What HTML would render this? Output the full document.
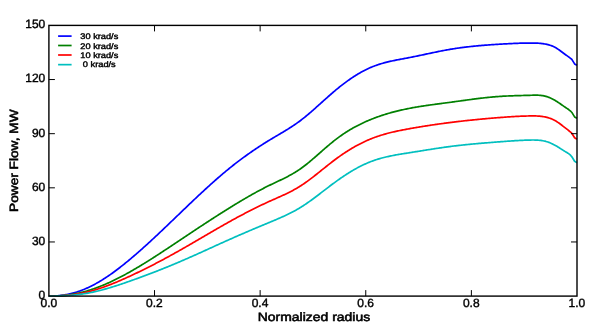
<!DOCTYPE html>
<html><head><meta charset="utf-8"><title>Power Flow</title>
<style>
html,body{margin:0;padding:0;background:#fff;}
body{width:595px;height:334px;overflow:hidden;font-family:"Liberation Sans",sans-serif;}
svg{display:block;will-change:transform;opacity:0.999;}
text{font-family:"Liberation Sans",sans-serif;fill:#000;text-rendering:geometricPrecision;}
.tk text{font-size:12px;stroke:#000;stroke-width:0.4px;}
.lg text{font-size:8.1px;stroke:#000;stroke-width:0.4px;}
.al{font-size:12px;stroke:#000;stroke-width:0.55px;}
</style></head><body>
<svg width="595" height="334" viewBox="0 0 595 334">
<rect x="0" y="0" width="595" height="334" fill="#ffffff"/>
<g>
<path d="M48.90 296.10 L49.90 296.10 L50.90 296.10 L51.90 296.09 L52.90 296.06 L53.90 296.03 L54.90 295.98 L55.90 295.92 L56.90 295.85 L57.90 295.77 L58.90 295.68 L59.90 295.57 L60.90 295.45 L61.90 295.33 L62.90 295.19 L63.90 295.04 L64.90 294.87 L65.90 294.70 L66.90 294.51 L67.90 294.31 L68.90 294.10 L69.90 293.87 L70.90 293.64 L71.90 293.39 L72.90 293.13 L73.90 292.86 L74.90 292.57 L75.90 292.27 L76.90 291.96 L77.90 291.64 L78.90 291.30 L79.90 290.95 L80.90 290.59 L81.90 290.22 L82.90 289.83 L83.90 289.43 L84.90 289.01 L85.90 288.59 L86.90 288.15 L87.90 287.69 L88.90 287.23 L89.90 286.75 L90.90 286.26 L91.90 285.76 L92.90 285.24 L93.90 284.72 L94.90 284.18 L95.90 283.63 L96.90 283.07 L97.90 282.50 L98.90 281.91 L99.90 281.32 L100.90 280.72 L101.90 280.10 L102.90 279.48 L103.90 278.84 L104.90 278.20 L105.90 277.54 L106.90 276.88 L107.90 276.21 L108.90 275.53 L109.90 274.83 L110.90 274.13 L111.90 273.43 L112.90 272.71 L113.90 271.98 L114.90 271.25 L115.90 270.51 L116.90 269.76 L117.90 269.00 L118.90 268.24 L119.90 267.47 L120.90 266.69 L121.90 265.91 L122.90 265.11 L123.90 264.32 L124.90 263.51 L125.90 262.70 L126.90 261.88 L127.90 261.06 L128.90 260.23 L129.90 259.40 L130.90 258.56 L131.90 257.72 L132.90 256.87 L133.90 256.01 L134.90 255.16 L135.90 254.29 L136.90 253.42 L137.90 252.55 L138.90 251.67 L139.90 250.79 L140.90 249.91 L141.90 249.02 L142.90 248.13 L143.90 247.23 L144.90 246.33 L145.90 245.42 L146.90 244.52 L147.90 243.60 L148.90 242.69 L149.90 241.77 L150.90 240.85 L151.90 239.93 L152.90 239.00 L153.90 238.07 L154.90 237.14 L155.90 236.21 L156.90 235.27 L157.90 234.33 L158.90 233.39 L159.90 232.45 L160.90 231.50 L161.90 230.55 L162.90 229.61 L163.90 228.65 L164.90 227.70 L165.90 226.75 L166.90 225.80 L167.90 224.84 L168.90 223.88 L169.90 222.92 L170.90 221.97 L171.90 221.01 L172.90 220.05 L173.90 219.09 L174.90 218.13 L175.90 217.16 L176.90 216.20 L177.90 215.24 L178.90 214.28 L179.90 213.32 L180.90 212.36 L181.90 211.40 L182.90 210.44 L183.90 209.48 L184.90 208.52 L185.90 207.56 L186.90 206.60 L187.90 205.65 L188.90 204.69 L189.90 203.74 L190.90 202.79 L191.90 201.84 L192.90 200.89 L193.90 199.94 L194.90 199.00 L195.90 198.05 L196.90 197.11 L197.90 196.17 L198.90 195.23 L199.90 194.30 L200.90 193.37 L201.90 192.44 L202.90 191.51 L203.90 190.59 L204.90 189.66 L205.90 188.75 L206.90 187.83 L207.90 186.92 L208.90 186.01 L209.90 185.11 L210.90 184.21 L211.90 183.31 L212.90 182.41 L213.90 181.53 L214.90 180.64 L215.90 179.76 L216.90 178.88 L217.90 178.01 L218.90 177.14 L219.90 176.28 L220.90 175.42 L221.90 174.56 L222.90 173.72 L223.90 172.87 L224.90 172.03 L225.90 171.20 L226.90 170.37 L227.90 169.55 L228.90 168.73 L229.90 167.92 L230.90 167.12 L231.90 166.32 L232.90 165.52 L233.90 164.73 L234.90 163.95 L235.90 163.18 L236.90 162.41 L237.90 161.64 L238.90 160.88 L239.90 160.13 L240.90 159.38 L241.90 158.63 L242.90 157.90 L243.90 157.16 L244.90 156.44 L245.90 155.71 L246.90 155.00 L247.90 154.29 L248.90 153.58 L249.90 152.88 L250.90 152.18 L251.90 151.49 L252.90 150.81 L253.90 150.12 L254.90 149.45 L255.90 148.78 L256.90 148.11 L257.90 147.45 L258.90 146.79 L259.90 146.14 L260.90 145.49 L261.90 144.85 L262.90 144.21 L263.90 143.58 L264.90 142.95 L265.90 142.33 L266.90 141.71 L267.90 141.09 L268.90 140.48 L269.90 139.87 L270.90 139.27 L271.90 138.67 L272.90 138.07 L273.90 137.48 L274.90 136.89 L275.90 136.30 L276.90 135.71 L277.90 135.12 L278.90 134.53 L279.90 133.94 L280.90 133.35 L281.90 132.75 L282.90 132.15 L283.90 131.55 L284.90 130.95 L285.90 130.34 L286.90 129.72 L287.90 129.10 L288.90 128.47 L289.90 127.84 L290.90 127.19 L291.90 126.54 L292.90 125.88 L293.90 125.21 L294.90 124.53 L295.90 123.84 L296.90 123.13 L297.90 122.42 L298.90 121.69 L299.90 120.95 L300.90 120.20 L301.90 119.43 L302.90 118.65 L303.90 117.85 L304.90 117.05 L305.90 116.23 L306.90 115.41 L307.90 114.57 L308.90 113.73 L309.90 112.88 L310.90 112.02 L311.90 111.15 L312.90 110.28 L313.90 109.40 L314.90 108.52 L315.90 107.63 L316.90 106.74 L317.90 105.85 L318.90 104.95 L319.90 104.05 L320.90 103.15 L321.90 102.25 L322.90 101.35 L323.90 100.45 L324.90 99.56 L325.90 98.66 L326.90 97.77 L327.90 96.88 L328.90 96.00 L329.90 95.12 L330.90 94.24 L331.90 93.37 L332.90 92.51 L333.90 91.66 L334.90 90.81 L335.90 89.97 L336.90 89.14 L337.90 88.32 L338.90 87.51 L339.90 86.71 L340.90 85.92 L341.90 85.14 L342.90 84.36 L343.90 83.60 L344.90 82.85 L345.90 82.11 L346.90 81.37 L347.90 80.65 L348.90 79.94 L349.90 79.24 L350.90 78.56 L351.90 77.88 L352.90 77.21 L353.90 76.56 L354.90 75.92 L355.90 75.29 L356.90 74.67 L357.90 74.07 L358.90 73.47 L359.90 72.89 L360.90 72.33 L361.90 71.77 L362.90 71.23 L363.90 70.70 L364.90 70.19 L365.90 69.69 L366.90 69.20 L367.90 68.73 L368.90 68.27 L369.90 67.83 L370.90 67.40 L371.90 66.98 L372.90 66.58 L373.90 66.19 L374.90 65.81 L375.90 65.45 L376.90 65.10 L377.90 64.76 L378.90 64.43 L379.90 64.11 L380.90 63.80 L381.90 63.51 L382.90 63.22 L383.90 62.94 L384.90 62.67 L385.90 62.41 L386.90 62.15 L387.90 61.90 L388.90 61.66 L389.90 61.43 L390.90 61.20 L391.90 60.98 L392.90 60.76 L393.90 60.55 L394.90 60.34 L395.90 60.14 L396.90 59.94 L397.90 59.74 L398.90 59.55 L399.90 59.35 L400.90 59.16 L401.90 58.98 L402.90 58.79 L403.90 58.60 L404.90 58.41 L405.90 58.23 L406.90 58.04 L407.90 57.85 L408.90 57.66 L409.90 57.47 L410.90 57.27 L411.90 57.07 L412.90 56.87 L413.90 56.67 L414.90 56.47 L415.90 56.27 L416.90 56.06 L417.90 55.85 L418.90 55.64 L419.90 55.43 L420.90 55.22 L421.90 55.01 L422.90 54.80 L423.90 54.59 L424.90 54.37 L425.90 54.16 L426.90 53.95 L427.90 53.73 L428.90 53.52 L429.90 53.31 L430.90 53.10 L431.90 52.89 L432.90 52.68 L433.90 52.47 L434.90 52.26 L435.90 52.05 L436.90 51.85 L437.90 51.64 L438.90 51.44 L439.90 51.24 L440.90 51.04 L441.90 50.85 L442.90 50.66 L443.90 50.47 L444.90 50.28 L445.90 50.09 L446.90 49.91 L447.90 49.73 L448.90 49.56 L449.90 49.38 L450.90 49.21 L451.90 49.05 L452.90 48.89 L453.90 48.73 L454.90 48.57 L455.90 48.42 L456.90 48.27 L457.90 48.13 L458.90 47.99 L459.90 47.85 L460.90 47.71 L461.90 47.58 L462.90 47.45 L463.90 47.32 L464.90 47.20 L465.90 47.08 L466.90 46.96 L467.90 46.84 L468.90 46.73 L469.90 46.62 L470.90 46.51 L471.90 46.40 L472.90 46.30 L473.90 46.20 L474.90 46.10 L475.90 46.00 L476.90 45.91 L477.90 45.81 L478.90 45.72 L479.90 45.63 L480.90 45.55 L481.90 45.46 L482.90 45.38 L483.90 45.30 L484.90 45.22 L485.90 45.14 L486.90 45.06 L487.90 44.99 L488.90 44.91 L489.90 44.84 L490.90 44.77 L491.90 44.70 L492.90 44.63 L493.90 44.57 L494.90 44.50 L495.90 44.43 L496.90 44.37 L497.90 44.31 L498.90 44.24 L499.90 44.18 L500.90 44.12 L501.90 44.06 L502.90 44.00 L503.90 43.95 L504.90 43.89 L505.90 43.83 L506.90 43.78 L507.90 43.73 L508.90 43.68 L509.90 43.63 L510.90 43.58 L511.90 43.53 L512.90 43.48 L513.90 43.44 L514.90 43.40 L515.90 43.36 L516.90 43.32 L517.90 43.28 L518.90 43.25 L519.90 43.22 L520.90 43.19 L521.90 43.16 L522.90 43.14 L523.90 43.11 L524.90 43.09 L525.90 43.08 L526.90 43.06 L527.90 43.05 L528.90 43.04 L529.90 43.03 L530.90 43.03 L531.90 43.03 L532.90 43.04 L533.90 43.05 L534.90 43.07 L535.90 43.10 L536.90 43.14 L537.90 43.19 L538.90 43.25 L539.90 43.33 L540.90 43.43 L541.90 43.53 L542.90 43.66 L543.90 43.81 L544.90 43.97 L545.90 44.16 L546.90 44.38 L547.90 44.61 L548.90 44.88 L549.90 45.19 L550.90 45.52 L551.90 45.90 L552.90 46.32 L553.90 46.78 L554.90 47.29 L555.90 47.85 L556.90 48.46 L557.90 49.12 L558.90 49.81 L559.90 50.53 L560.90 51.27 L561.90 52.02 L562.90 52.78 L563.90 53.52 L564.90 54.25 L565.90 54.95 L566.90 55.65 L567.90 56.34 L568.90 57.06 L569.90 57.82 L570.90 58.63 L571.90 59.51 L572.00 59.60 L574.60 63.90 L577.00 65.30" fill="none" stroke="#0000ff" stroke-width="1.7" stroke-linejoin="round"/>
<path d="M48.90 296.10 L49.90 296.10 L50.90 296.10 L51.90 296.10 L52.90 296.08 L53.90 296.06 L54.90 296.03 L55.90 295.99 L56.90 295.95 L57.90 295.89 L58.90 295.84 L59.90 295.77 L60.90 295.69 L61.90 295.61 L62.90 295.52 L63.90 295.42 L64.90 295.32 L65.90 295.20 L66.90 295.08 L67.90 294.95 L68.90 294.82 L69.90 294.67 L70.90 294.52 L71.90 294.36 L72.90 294.19 L73.90 294.01 L74.90 293.82 L75.90 293.63 L76.90 293.43 L77.90 293.22 L78.90 293.00 L79.90 292.77 L80.90 292.54 L81.90 292.29 L82.90 292.04 L83.90 291.78 L84.90 291.51 L85.90 291.23 L86.90 290.95 L87.90 290.65 L88.90 290.35 L89.90 290.03 L90.90 289.71 L91.90 289.39 L92.90 289.05 L93.90 288.71 L94.90 288.35 L95.90 287.99 L96.90 287.63 L97.90 287.25 L98.90 286.87 L99.90 286.48 L100.90 286.08 L101.90 285.68 L102.90 285.27 L103.90 284.85 L104.90 284.43 L105.90 284.00 L106.90 283.56 L107.90 283.12 L108.90 282.67 L109.90 282.21 L110.90 281.75 L111.90 281.28 L112.90 280.80 L113.90 280.32 L114.90 279.83 L115.90 279.34 L116.90 278.84 L117.90 278.34 L118.90 277.83 L119.90 277.32 L120.90 276.80 L121.90 276.27 L122.90 275.74 L123.90 275.21 L124.90 274.67 L125.90 274.12 L126.90 273.57 L127.90 273.02 L128.90 272.46 L129.90 271.90 L130.90 271.33 L131.90 270.76 L132.90 270.19 L133.90 269.61 L134.90 269.02 L135.90 268.44 L136.90 267.85 L137.90 267.25 L138.90 266.65 L139.90 266.05 L140.90 265.45 L141.90 264.84 L142.90 264.23 L143.90 263.62 L144.90 263.00 L145.90 262.38 L146.90 261.76 L147.90 261.13 L148.90 260.50 L149.90 259.87 L150.90 259.24 L151.90 258.60 L152.90 257.96 L153.90 257.32 L154.90 256.68 L155.90 256.04 L156.90 255.39 L157.90 254.74 L158.90 254.09 L159.90 253.44 L160.90 252.79 L161.90 252.13 L162.90 251.48 L163.90 250.82 L164.90 250.16 L165.90 249.50 L166.90 248.84 L167.90 248.17 L168.90 247.51 L169.90 246.85 L170.90 246.18 L171.90 245.52 L172.90 244.85 L173.90 244.19 L174.90 243.52 L175.90 242.85 L176.90 242.18 L177.90 241.52 L178.90 240.85 L179.90 240.18 L180.90 239.52 L181.90 238.85 L182.90 238.18 L183.90 237.52 L184.90 236.85 L185.90 236.18 L186.90 235.52 L187.90 234.85 L188.90 234.19 L189.90 233.52 L190.90 232.86 L191.90 232.20 L192.90 231.53 L193.90 230.87 L194.90 230.21 L195.90 229.55 L196.90 228.89 L197.90 228.23 L198.90 227.57 L199.90 226.91 L200.90 226.25 L201.90 225.60 L202.90 224.94 L203.90 224.29 L204.90 223.63 L205.90 222.98 L206.90 222.33 L207.90 221.68 L208.90 221.03 L209.90 220.38 L210.90 219.73 L211.90 219.09 L212.90 218.44 L213.90 217.80 L214.90 217.15 L215.90 216.51 L216.90 215.87 L217.90 215.23 L218.90 214.59 L219.90 213.96 L220.90 213.32 L221.90 212.69 L222.90 212.06 L223.90 211.43 L224.90 210.80 L225.90 210.17 L226.90 209.55 L227.90 208.92 L228.90 208.30 L229.90 207.68 L230.90 207.06 L231.90 206.44 L232.90 205.83 L233.90 205.21 L234.90 204.60 L235.90 203.99 L236.90 203.39 L237.90 202.78 L238.90 202.18 L239.90 201.58 L240.90 200.98 L241.90 200.39 L242.90 199.80 L243.90 199.21 L244.90 198.62 L245.90 198.04 L246.90 197.46 L247.90 196.88 L248.90 196.31 L249.90 195.74 L250.90 195.17 L251.90 194.60 L252.90 194.04 L253.90 193.49 L254.90 192.93 L255.90 192.38 L256.90 191.84 L257.90 191.29 L258.90 190.76 L259.90 190.22 L260.90 189.69 L261.90 189.17 L262.90 188.64 L263.90 188.13 L264.90 187.61 L265.90 187.10 L266.90 186.60 L267.90 186.10 L268.90 185.61 L269.90 185.12 L270.90 184.63 L271.90 184.15 L272.90 183.67 L273.90 183.20 L274.90 182.73 L275.90 182.25 L276.90 181.78 L277.90 181.31 L278.90 180.84 L279.90 180.36 L280.90 179.88 L281.90 179.40 L282.90 178.91 L283.90 178.42 L284.90 177.92 L285.90 177.42 L286.90 176.91 L287.90 176.39 L288.90 175.86 L289.90 175.32 L290.90 174.77 L291.90 174.21 L292.90 173.63 L293.90 173.04 L294.90 172.44 L295.90 171.83 L296.90 171.20 L297.90 170.55 L298.90 169.89 L299.90 169.20 L300.90 168.50 L301.90 167.78 L302.90 167.05 L303.90 166.30 L304.90 165.53 L305.90 164.75 L306.90 163.96 L307.90 163.15 L308.90 162.34 L309.90 161.51 L310.90 160.67 L311.90 159.83 L312.90 158.97 L313.90 158.11 L314.90 157.25 L315.90 156.38 L316.90 155.50 L317.90 154.63 L318.90 153.75 L319.90 152.87 L320.90 151.99 L321.90 151.11 L322.90 150.23 L323.90 149.35 L324.90 148.48 L325.90 147.61 L326.90 146.74 L327.90 145.89 L328.90 145.04 L329.90 144.20 L330.90 143.36 L331.90 142.54 L332.90 141.73 L333.90 140.93 L334.90 140.14 L335.90 139.36 L336.90 138.60 L337.90 137.85 L338.90 137.12 L339.90 136.40 L340.90 135.69 L341.90 134.99 L342.90 134.31 L343.90 133.64 L344.90 132.98 L345.90 132.33 L346.90 131.69 L347.90 131.07 L348.90 130.45 L349.90 129.85 L350.90 129.26 L351.90 128.68 L352.90 128.11 L353.90 127.55 L354.90 127.00 L355.90 126.46 L356.90 125.93 L357.90 125.41 L358.90 124.90 L359.90 124.40 L360.90 123.91 L361.90 123.43 L362.90 122.96 L363.90 122.49 L364.90 122.03 L365.90 121.59 L366.90 121.15 L367.90 120.71 L368.90 120.29 L369.90 119.87 L370.90 119.46 L371.90 119.06 L372.90 118.67 L373.90 118.28 L374.90 117.90 L375.90 117.52 L376.90 117.16 L377.90 116.80 L378.90 116.44 L379.90 116.09 L380.90 115.75 L381.90 115.42 L382.90 115.09 L383.90 114.77 L384.90 114.45 L385.90 114.14 L386.90 113.84 L387.90 113.54 L388.90 113.25 L389.90 112.96 L390.90 112.68 L391.90 112.41 L392.90 112.14 L393.90 111.87 L394.90 111.61 L395.90 111.36 L396.90 111.11 L397.90 110.86 L398.90 110.62 L399.90 110.38 L400.90 110.15 L401.90 109.93 L402.90 109.71 L403.90 109.49 L404.90 109.27 L405.90 109.07 L406.90 108.86 L407.90 108.66 L408.90 108.46 L409.90 108.27 L410.90 108.08 L411.90 107.89 L412.90 107.71 L413.90 107.53 L414.90 107.35 L415.90 107.18 L416.90 107.01 L417.90 106.84 L418.90 106.68 L419.90 106.52 L420.90 106.36 L421.90 106.20 L422.90 106.05 L423.90 105.90 L424.90 105.75 L425.90 105.60 L426.90 105.45 L427.90 105.31 L428.90 105.17 L429.90 105.02 L430.90 104.88 L431.90 104.75 L432.90 104.61 L433.90 104.47 L434.90 104.34 L435.90 104.20 L436.90 104.07 L437.90 103.94 L438.90 103.81 L439.90 103.67 L440.90 103.54 L441.90 103.41 L442.90 103.28 L443.90 103.15 L444.90 103.02 L445.90 102.88 L446.90 102.75 L447.90 102.62 L448.90 102.49 L449.90 102.35 L450.90 102.22 L451.90 102.08 L452.90 101.95 L453.90 101.81 L454.90 101.67 L455.90 101.53 L456.90 101.40 L457.90 101.26 L458.90 101.12 L459.90 100.98 L460.90 100.84 L461.90 100.70 L462.90 100.57 L463.90 100.43 L464.90 100.29 L465.90 100.15 L466.90 100.02 L467.90 99.88 L468.90 99.75 L469.90 99.61 L470.90 99.48 L471.90 99.35 L472.90 99.21 L473.90 99.08 L474.90 98.96 L475.90 98.83 L476.90 98.70 L477.90 98.58 L478.90 98.46 L479.90 98.33 L480.90 98.21 L481.90 98.10 L482.90 97.98 L483.90 97.87 L484.90 97.76 L485.90 97.65 L486.90 97.54 L487.90 97.44 L488.90 97.34 L489.90 97.24 L490.90 97.14 L491.90 97.05 L492.90 96.96 L493.90 96.87 L494.90 96.78 L495.90 96.70 L496.90 96.62 L497.90 96.55 L498.90 96.48 L499.90 96.41 L500.90 96.34 L501.90 96.28 L502.90 96.22 L503.90 96.17 L504.90 96.12 L505.90 96.07 L506.90 96.02 L507.90 95.98 L508.90 95.93 L509.90 95.89 L510.90 95.86 L511.90 95.82 L512.90 95.79 L513.90 95.75 L514.90 95.72 L515.90 95.69 L516.90 95.66 L517.90 95.63 L518.90 95.61 L519.90 95.58 L520.90 95.55 L521.90 95.52 L522.90 95.50 L523.90 95.47 L524.90 95.44 L525.90 95.41 L526.90 95.39 L527.90 95.36 L528.90 95.33 L529.90 95.29 L530.90 95.26 L531.90 95.23 L532.90 95.20 L533.90 95.18 L534.90 95.17 L535.90 95.17 L536.90 95.18 L537.90 95.21 L538.90 95.26 L539.90 95.33 L540.90 95.43 L541.90 95.55 L542.90 95.70 L543.90 95.89 L544.90 96.11 L545.90 96.37 L546.90 96.67 L547.90 97.00 L548.90 97.37 L549.90 97.77 L550.90 98.21 L551.90 98.68 L552.90 99.19 L553.90 99.73 L554.90 100.30 L555.90 100.90 L556.90 101.53 L557.90 102.18 L558.90 102.86 L559.90 103.55 L560.90 104.25 L561.90 104.95 L562.90 105.65 L563.90 106.35 L564.90 107.03 L565.90 107.69 L566.90 108.36 L567.90 109.05 L568.90 109.79 L569.90 110.59 L570.90 111.48 L571.90 112.49 L572.00 112.60 L574.60 116.90 L577.00 118.30" fill="none" stroke="#008000" stroke-width="1.7" stroke-linejoin="round"/>
<path d="M48.90 296.10 L49.90 296.09 L50.90 296.09 L51.90 296.07 L52.90 296.05 L53.90 296.03 L54.90 296.01 L55.90 295.97 L56.90 295.94 L57.90 295.90 L58.90 295.85 L59.90 295.80 L60.90 295.75 L61.90 295.69 L62.90 295.62 L63.90 295.55 L64.90 295.47 L65.90 295.39 L66.90 295.30 L67.90 295.20 L68.90 295.10 L69.90 294.99 L70.90 294.88 L71.90 294.75 L72.90 294.63 L73.90 294.49 L74.90 294.35 L75.90 294.20 L76.90 294.05 L77.90 293.88 L78.90 293.71 L79.90 293.54 L80.90 293.35 L81.90 293.16 L82.90 292.96 L83.90 292.75 L84.90 292.53 L85.90 292.31 L86.90 292.07 L87.90 291.83 L88.90 291.58 L89.90 291.32 L90.90 291.06 L91.90 290.79 L92.90 290.51 L93.90 290.22 L94.90 289.93 L95.90 289.63 L96.90 289.32 L97.90 289.00 L98.90 288.68 L99.90 288.36 L100.90 288.02 L101.90 287.68 L102.90 287.34 L103.90 286.98 L104.90 286.63 L105.90 286.26 L106.90 285.89 L107.90 285.52 L108.90 285.14 L109.90 284.75 L110.90 284.36 L111.90 283.97 L112.90 283.57 L113.90 283.16 L114.90 282.75 L115.90 282.34 L116.90 281.92 L117.90 281.50 L118.90 281.08 L119.90 280.65 L120.90 280.21 L121.90 279.78 L122.90 279.34 L123.90 278.89 L124.90 278.44 L125.90 277.99 L126.90 277.54 L127.90 277.09 L128.90 276.63 L129.90 276.17 L130.90 275.70 L131.90 275.24 L132.90 274.77 L133.90 274.30 L134.90 273.82 L135.90 273.35 L136.90 272.87 L137.90 272.39 L138.90 271.91 L139.90 271.42 L140.90 270.93 L141.90 270.44 L142.90 269.95 L143.90 269.46 L144.90 268.96 L145.90 268.46 L146.90 267.96 L147.90 267.46 L148.90 266.95 L149.90 266.45 L150.90 265.94 L151.90 265.43 L152.90 264.91 L153.90 264.40 L154.90 263.88 L155.90 263.36 L156.90 262.84 L157.90 262.31 L158.90 261.79 L159.90 261.26 L160.90 260.73 L161.90 260.20 L162.90 259.66 L163.90 259.13 L164.90 258.59 L165.90 258.05 L166.90 257.51 L167.90 256.97 L168.90 256.42 L169.90 255.87 L170.90 255.32 L171.90 254.77 L172.90 254.22 L173.90 253.67 L174.90 253.11 L175.90 252.55 L176.90 251.99 L177.90 251.43 L178.90 250.87 L179.90 250.30 L180.90 249.74 L181.90 249.17 L182.90 248.60 L183.90 248.03 L184.90 247.46 L185.90 246.88 L186.90 246.31 L187.90 245.73 L188.90 245.16 L189.90 244.58 L190.90 244.00 L191.90 243.42 L192.90 242.84 L193.90 242.26 L194.90 241.67 L195.90 241.09 L196.90 240.51 L197.90 239.93 L198.90 239.34 L199.90 238.76 L200.90 238.17 L201.90 237.59 L202.90 237.00 L203.90 236.42 L204.90 235.83 L205.90 235.25 L206.90 234.67 L207.90 234.08 L208.90 233.50 L209.90 232.92 L210.90 232.33 L211.90 231.75 L212.90 231.17 L213.90 230.59 L214.90 230.01 L215.90 229.43 L216.90 228.85 L217.90 228.28 L218.90 227.70 L219.90 227.13 L220.90 226.56 L221.90 225.98 L222.90 225.41 L223.90 224.84 L224.90 224.28 L225.90 223.71 L226.90 223.15 L227.90 222.59 L228.90 222.03 L229.90 221.47 L230.90 220.91 L231.90 220.36 L232.90 219.81 L233.90 219.26 L234.90 218.71 L235.90 218.16 L236.90 217.62 L237.90 217.08 L238.90 216.54 L239.90 216.00 L240.90 215.47 L241.90 214.94 L242.90 214.41 L243.90 213.88 L244.90 213.35 L245.90 212.83 L246.90 212.31 L247.90 211.80 L248.90 211.28 L249.90 210.77 L250.90 210.26 L251.90 209.75 L252.90 209.25 L253.90 208.75 L254.90 208.25 L255.90 207.76 L256.90 207.26 L257.90 206.77 L258.90 206.29 L259.90 205.80 L260.90 205.32 L261.90 204.85 L262.90 204.37 L263.90 203.90 L264.90 203.43 L265.90 202.97 L266.90 202.50 L267.90 202.05 L268.90 201.59 L269.90 201.14 L270.90 200.69 L271.90 200.24 L272.90 199.80 L273.90 199.36 L274.90 198.91 L275.90 198.47 L276.90 198.03 L277.90 197.59 L278.90 197.14 L279.90 196.70 L280.90 196.25 L281.90 195.80 L282.90 195.34 L283.90 194.88 L284.90 194.41 L285.90 193.94 L286.90 193.46 L287.90 192.97 L288.90 192.47 L289.90 191.97 L290.90 191.46 L291.90 190.94 L292.90 190.40 L293.90 189.86 L294.90 189.31 L295.90 188.74 L296.90 188.16 L297.90 187.57 L298.90 186.96 L299.90 186.34 L300.90 185.70 L301.90 185.05 L302.90 184.38 L303.90 183.70 L304.90 183.01 L305.90 182.30 L306.90 181.59 L307.90 180.86 L308.90 180.12 L309.90 179.38 L310.90 178.62 L311.90 177.86 L312.90 177.09 L313.90 176.32 L314.90 175.53 L315.90 174.75 L316.90 173.96 L317.90 173.16 L318.90 172.36 L319.90 171.56 L320.90 170.76 L321.90 169.96 L322.90 169.16 L323.90 168.35 L324.90 167.55 L325.90 166.75 L326.90 165.96 L327.90 165.16 L328.90 164.37 L329.90 163.59 L330.90 162.81 L331.90 162.03 L332.90 161.26 L333.90 160.50 L334.90 159.75 L335.90 159.01 L336.90 158.27 L337.90 157.55 L338.90 156.83 L339.90 156.12 L340.90 155.42 L341.90 154.73 L342.90 154.05 L343.90 153.38 L344.90 152.72 L345.90 152.06 L346.90 151.42 L347.90 150.78 L348.90 150.16 L349.90 149.54 L350.90 148.94 L351.90 148.34 L352.90 147.75 L353.90 147.17 L354.90 146.61 L355.90 146.05 L356.90 145.50 L357.90 144.96 L358.90 144.43 L359.90 143.91 L360.90 143.40 L361.90 142.90 L362.90 142.41 L363.90 141.93 L364.90 141.46 L365.90 141.00 L366.90 140.55 L367.90 140.11 L368.90 139.68 L369.90 139.27 L370.90 138.86 L371.90 138.46 L372.90 138.07 L373.90 137.69 L374.90 137.32 L375.90 136.96 L376.90 136.61 L377.90 136.27 L378.90 135.94 L379.90 135.61 L380.90 135.30 L381.90 134.99 L382.90 134.69 L383.90 134.39 L384.90 134.10 L385.90 133.83 L386.90 133.55 L387.90 133.29 L388.90 133.03 L389.90 132.77 L390.90 132.52 L391.90 132.28 L392.90 132.04 L393.90 131.81 L394.90 131.59 L395.90 131.36 L396.90 131.15 L397.90 130.93 L398.90 130.72 L399.90 130.52 L400.90 130.32 L401.90 130.12 L402.90 129.92 L403.90 129.73 L404.90 129.54 L405.90 129.36 L406.90 129.17 L407.90 128.99 L408.90 128.81 L409.90 128.63 L410.90 128.45 L411.90 128.28 L412.90 128.10 L413.90 127.93 L414.90 127.76 L415.90 127.58 L416.90 127.42 L417.90 127.25 L418.90 127.08 L419.90 126.92 L420.90 126.75 L421.90 126.59 L422.90 126.43 L423.90 126.27 L424.90 126.11 L425.90 125.95 L426.90 125.79 L427.90 125.64 L428.90 125.49 L429.90 125.33 L430.90 125.18 L431.90 125.03 L432.90 124.88 L433.90 124.74 L434.90 124.59 L435.90 124.45 L436.90 124.30 L437.90 124.16 L438.90 124.02 L439.90 123.88 L440.90 123.74 L441.90 123.60 L442.90 123.47 L443.90 123.33 L444.90 123.20 L445.90 123.07 L446.90 122.94 L447.90 122.81 L448.90 122.68 L449.90 122.55 L450.90 122.42 L451.90 122.30 L452.90 122.17 L453.90 122.05 L454.90 121.93 L455.90 121.81 L456.90 121.69 L457.90 121.57 L458.90 121.45 L459.90 121.34 L460.90 121.22 L461.90 121.11 L462.90 121.00 L463.90 120.89 L464.90 120.78 L465.90 120.67 L466.90 120.56 L467.90 120.45 L468.90 120.34 L469.90 120.24 L470.90 120.13 L471.90 120.03 L472.90 119.93 L473.90 119.83 L474.90 119.73 L475.90 119.63 L476.90 119.53 L477.90 119.43 L478.90 119.34 L479.90 119.24 L480.90 119.15 L481.90 119.06 L482.90 118.96 L483.90 118.87 L484.90 118.78 L485.90 118.69 L486.90 118.60 L487.90 118.52 L488.90 118.43 L489.90 118.34 L490.90 118.26 L491.90 118.17 L492.90 118.09 L493.90 118.01 L494.90 117.93 L495.90 117.85 L496.90 117.77 L497.90 117.69 L498.90 117.61 L499.90 117.53 L500.90 117.45 L501.90 117.38 L502.90 117.30 L503.90 117.23 L504.90 117.16 L505.90 117.09 L506.90 117.02 L507.90 116.95 L508.90 116.88 L509.90 116.81 L510.90 116.75 L511.90 116.69 L512.90 116.63 L513.90 116.57 L514.90 116.51 L515.90 116.46 L516.90 116.40 L517.90 116.35 L518.90 116.30 L519.90 116.26 L520.90 116.21 L521.90 116.17 L522.90 116.14 L523.90 116.10 L524.90 116.07 L525.90 116.04 L526.90 116.01 L527.90 115.99 L528.90 115.96 L529.90 115.95 L530.90 115.93 L531.90 115.92 L532.90 115.92 L533.90 115.92 L534.90 115.94 L535.90 115.96 L536.90 116.00 L537.90 116.05 L538.90 116.11 L539.90 116.19 L540.90 116.29 L541.90 116.41 L542.90 116.56 L543.90 116.72 L544.90 116.91 L545.90 117.12 L546.90 117.37 L547.90 117.64 L548.90 117.94 L549.90 118.28 L550.90 118.65 L551.90 119.05 L552.90 119.50 L553.90 119.99 L554.90 120.52 L555.90 121.09 L556.90 121.71 L557.90 122.36 L558.90 123.06 L559.90 123.78 L560.90 124.52 L561.90 125.28 L562.90 126.06 L563.90 126.84 L564.90 127.61 L565.90 128.39 L566.90 129.16 L567.90 129.95 L568.90 130.76 L569.90 131.60 L570.90 132.47 L571.90 133.40 L572.00 133.50 L574.60 137.80 L577.00 139.20" fill="none" stroke="#ff0000" stroke-width="1.7" stroke-linejoin="round"/>
<path d="M48.90 296.10 L49.90 296.08 L50.90 296.07 L51.90 296.05 L52.90 296.03 L53.90 296.01 L54.90 295.99 L55.90 295.96 L56.90 295.93 L57.90 295.90 L58.90 295.87 L59.90 295.84 L60.90 295.80 L61.90 295.76 L62.90 295.72 L63.90 295.67 L64.90 295.62 L65.90 295.57 L66.90 295.51 L67.90 295.45 L68.90 295.39 L69.90 295.32 L70.90 295.24 L71.90 295.16 L72.90 295.08 L73.90 294.99 L74.90 294.90 L75.90 294.80 L76.90 294.69 L77.90 294.58 L78.90 294.47 L79.90 294.34 L80.90 294.21 L81.90 294.08 L82.90 293.93 L83.90 293.78 L84.90 293.63 L85.90 293.46 L86.90 293.29 L87.90 293.12 L88.90 292.93 L89.90 292.74 L90.90 292.54 L91.90 292.34 L92.90 292.13 L93.90 291.91 L94.90 291.69 L95.90 291.46 L96.90 291.22 L97.90 290.98 L98.90 290.74 L99.90 290.49 L100.90 290.23 L101.90 289.97 L102.90 289.70 L103.90 289.43 L104.90 289.15 L105.90 288.87 L106.90 288.59 L107.90 288.30 L108.90 288.00 L109.90 287.71 L110.90 287.40 L111.90 287.10 L112.90 286.79 L113.90 286.48 L114.90 286.16 L115.90 285.84 L116.90 285.52 L117.90 285.19 L118.90 284.86 L119.90 284.53 L120.90 284.20 L121.90 283.86 L122.90 283.52 L123.90 283.18 L124.90 282.84 L125.90 282.49 L126.90 282.15 L127.90 281.80 L128.90 281.45 L129.90 281.10 L130.90 280.74 L131.90 280.39 L132.90 280.03 L133.90 279.68 L134.90 279.32 L135.90 278.96 L136.90 278.60 L137.90 278.24 L138.90 277.87 L139.90 277.51 L140.90 277.14 L141.90 276.77 L142.90 276.40 L143.90 276.03 L144.90 275.66 L145.90 275.29 L146.90 274.91 L147.90 274.54 L148.90 274.16 L149.90 273.78 L150.90 273.40 L151.90 273.02 L152.90 272.63 L153.90 272.25 L154.90 271.86 L155.90 271.48 L156.90 271.09 L157.90 270.69 L158.90 270.30 L159.90 269.91 L160.90 269.51 L161.90 269.12 L162.90 268.72 L163.90 268.32 L164.90 267.91 L165.90 267.51 L166.90 267.11 L167.90 266.70 L168.90 266.29 L169.90 265.88 L170.90 265.47 L171.90 265.06 L172.90 264.64 L173.90 264.22 L174.90 263.81 L175.90 263.39 L176.90 262.96 L177.90 262.54 L178.90 262.12 L179.90 261.69 L180.90 261.26 L181.90 260.83 L182.90 260.40 L183.90 259.96 L184.90 259.53 L185.90 259.09 L186.90 258.66 L187.90 258.22 L188.90 257.78 L189.90 257.33 L190.90 256.89 L191.90 256.45 L192.90 256.00 L193.90 255.56 L194.90 255.11 L195.90 254.66 L196.90 254.21 L197.90 253.76 L198.90 253.31 L199.90 252.86 L200.90 252.41 L201.90 251.96 L202.90 251.51 L203.90 251.05 L204.90 250.60 L205.90 250.15 L206.90 249.69 L207.90 249.24 L208.90 248.78 L209.90 248.33 L210.90 247.87 L211.90 247.42 L212.90 246.97 L213.90 246.51 L214.90 246.06 L215.90 245.60 L216.90 245.15 L217.90 244.70 L218.90 244.24 L219.90 243.79 L220.90 243.34 L221.90 242.89 L222.90 242.43 L223.90 241.98 L224.90 241.53 L225.90 241.09 L226.90 240.64 L227.90 240.19 L228.90 239.74 L229.90 239.30 L230.90 238.85 L231.90 238.41 L232.90 237.97 L233.90 237.53 L234.90 237.09 L235.90 236.65 L236.90 236.21 L237.90 235.77 L238.90 235.34 L239.90 234.90 L240.90 234.47 L241.90 234.03 L242.90 233.60 L243.90 233.17 L244.90 232.74 L245.90 232.31 L246.90 231.88 L247.90 231.45 L248.90 231.02 L249.90 230.59 L250.90 230.17 L251.90 229.74 L252.90 229.32 L253.90 228.89 L254.90 228.47 L255.90 228.05 L256.90 227.62 L257.90 227.20 L258.90 226.78 L259.90 226.36 L260.90 225.94 L261.90 225.52 L262.90 225.10 L263.90 224.68 L264.90 224.26 L265.90 223.85 L266.90 223.43 L267.90 223.01 L268.90 222.60 L269.90 222.18 L270.90 221.76 L271.90 221.35 L272.90 220.93 L273.90 220.52 L274.90 220.10 L275.90 219.68 L276.90 219.25 L277.90 218.83 L278.90 218.40 L279.90 217.97 L280.90 217.53 L281.90 217.09 L282.90 216.64 L283.90 216.19 L284.90 215.73 L285.90 215.27 L286.90 214.80 L287.90 214.32 L288.90 213.83 L289.90 213.34 L290.90 212.84 L291.90 212.32 L292.90 211.80 L293.90 211.27 L294.90 210.73 L295.90 210.17 L296.90 209.61 L297.90 209.03 L298.90 208.44 L299.90 207.83 L300.90 207.22 L301.90 206.59 L302.90 205.95 L303.90 205.29 L304.90 204.63 L305.90 203.95 L306.90 203.27 L307.90 202.57 L308.90 201.87 L309.90 201.16 L310.90 200.44 L311.90 199.71 L312.90 198.98 L313.90 198.24 L314.90 197.50 L315.90 196.75 L316.90 195.99 L317.90 195.23 L318.90 194.47 L319.90 193.71 L320.90 192.94 L321.90 192.18 L322.90 191.41 L323.90 190.64 L324.90 189.87 L325.90 189.10 L326.90 188.34 L327.90 187.57 L328.90 186.81 L329.90 186.05 L330.90 185.30 L331.90 184.55 L332.90 183.80 L333.90 183.06 L334.90 182.33 L335.90 181.60 L336.90 180.88 L337.90 180.16 L338.90 179.45 L339.90 178.75 L340.90 178.06 L341.90 177.38 L342.90 176.70 L343.90 176.03 L344.90 175.37 L345.90 174.72 L346.90 174.07 L347.90 173.44 L348.90 172.81 L349.90 172.19 L350.90 171.58 L351.90 170.98 L352.90 170.39 L353.90 169.81 L354.90 169.24 L355.90 168.68 L356.90 168.13 L357.90 167.59 L358.90 167.06 L359.90 166.54 L360.90 166.03 L361.90 165.53 L362.90 165.05 L363.90 164.57 L364.90 164.11 L365.90 163.66 L366.90 163.22 L367.90 162.79 L368.90 162.38 L369.90 161.97 L370.90 161.58 L371.90 161.21 L372.90 160.84 L373.90 160.49 L374.90 160.14 L375.90 159.81 L376.90 159.49 L377.90 159.18 L378.90 158.88 L379.90 158.58 L380.90 158.30 L381.90 158.03 L382.90 157.76 L383.90 157.51 L384.90 157.26 L385.90 157.02 L386.90 156.79 L387.90 156.56 L388.90 156.34 L389.90 156.13 L390.90 155.92 L391.90 155.72 L392.90 155.52 L393.90 155.33 L394.90 155.14 L395.90 154.96 L396.90 154.78 L397.90 154.60 L398.90 154.43 L399.90 154.26 L400.90 154.10 L401.90 153.93 L402.90 153.77 L403.90 153.61 L404.90 153.45 L405.90 153.30 L406.90 153.14 L407.90 152.98 L408.90 152.82 L409.90 152.67 L410.90 152.51 L411.90 152.35 L412.90 152.19 L413.90 152.03 L414.90 151.87 L415.90 151.71 L416.90 151.55 L417.90 151.39 L418.90 151.23 L419.90 151.07 L420.90 150.91 L421.90 150.75 L422.90 150.58 L423.90 150.42 L424.90 150.26 L425.90 150.10 L426.90 149.94 L427.90 149.78 L428.90 149.63 L429.90 149.47 L430.90 149.31 L431.90 149.15 L432.90 149.00 L433.90 148.84 L434.90 148.69 L435.90 148.53 L436.90 148.38 L437.90 148.23 L438.90 148.08 L439.90 147.93 L440.90 147.79 L441.90 147.64 L442.90 147.50 L443.90 147.35 L444.90 147.21 L445.90 147.08 L446.90 146.94 L447.90 146.80 L448.90 146.67 L449.90 146.54 L450.90 146.41 L451.90 146.28 L452.90 146.16 L453.90 146.03 L454.90 145.91 L455.90 145.79 L456.90 145.67 L457.90 145.56 L458.90 145.45 L459.90 145.33 L460.90 145.22 L461.90 145.11 L462.90 145.01 L463.90 144.90 L464.90 144.80 L465.90 144.69 L466.90 144.59 L467.90 144.49 L468.90 144.39 L469.90 144.30 L470.90 144.20 L471.90 144.11 L472.90 144.01 L473.90 143.92 L474.90 143.83 L475.90 143.74 L476.90 143.65 L477.90 143.56 L478.90 143.47 L479.90 143.39 L480.90 143.30 L481.90 143.22 L482.90 143.13 L483.90 143.05 L484.90 142.97 L485.90 142.89 L486.90 142.81 L487.90 142.73 L488.90 142.65 L489.90 142.57 L490.90 142.49 L491.90 142.41 L492.90 142.33 L493.90 142.25 L494.90 142.18 L495.90 142.10 L496.90 142.02 L497.90 141.95 L498.90 141.87 L499.90 141.79 L500.90 141.72 L501.90 141.64 L502.90 141.56 L503.90 141.49 L504.90 141.41 L505.90 141.34 L506.90 141.26 L507.90 141.19 L508.90 141.12 L509.90 141.05 L510.90 140.98 L511.90 140.91 L512.90 140.85 L513.90 140.78 L514.90 140.72 L515.90 140.66 L516.90 140.60 L517.90 140.54 L518.90 140.48 L519.90 140.43 L520.90 140.38 L521.90 140.33 L522.90 140.29 L523.90 140.24 L524.90 140.20 L525.90 140.17 L526.90 140.13 L527.90 140.10 L528.90 140.08 L529.90 140.05 L530.90 140.03 L531.90 140.02 L532.90 140.01 L533.90 140.01 L534.90 140.03 L535.90 140.05 L536.90 140.09 L537.90 140.15 L538.90 140.23 L539.90 140.32 L540.90 140.44 L541.90 140.59 L542.90 140.76 L543.90 140.96 L544.90 141.18 L545.90 141.44 L546.90 141.74 L547.90 142.06 L548.90 142.41 L549.90 142.80 L550.90 143.22 L551.90 143.66 L552.90 144.14 L553.90 144.65 L554.90 145.18 L555.90 145.74 L556.90 146.33 L557.90 146.95 L558.90 147.58 L559.90 148.22 L560.90 148.87 L561.90 149.51 L562.90 150.15 L563.90 150.77 L564.90 151.37 L565.90 151.95 L566.90 152.54 L567.90 153.17 L568.90 153.88 L569.90 154.71 L570.90 155.69 L571.90 156.87 L572.00 157.00 L574.60 161.30 L577.00 162.70" fill="none" stroke="#00bfbf" stroke-width="1.7" stroke-linejoin="round"/>
</g>
<rect x="48.90" y="25.40" width="528.10" height="270.70" fill="none" stroke="#000" stroke-width="1.4"/>
<g stroke="#000" stroke-width="1"><line x1="154.52" y1="296.10" x2="154.52" y2="290.10"/><line x1="154.52" y1="25.40" x2="154.52" y2="31.40"/><line x1="48.90" y1="241.96" x2="54.90" y2="241.96"/><line x1="577.00" y1="241.96" x2="571.00" y2="241.96"/><line x1="260.14" y1="296.10" x2="260.14" y2="290.10"/><line x1="260.14" y1="25.40" x2="260.14" y2="31.40"/><line x1="48.90" y1="187.82" x2="54.90" y2="187.82"/><line x1="577.00" y1="187.82" x2="571.00" y2="187.82"/><line x1="365.76" y1="296.10" x2="365.76" y2="290.10"/><line x1="365.76" y1="25.40" x2="365.76" y2="31.40"/><line x1="48.90" y1="133.68" x2="54.90" y2="133.68"/><line x1="577.00" y1="133.68" x2="571.00" y2="133.68"/><line x1="471.38" y1="296.10" x2="471.38" y2="290.10"/><line x1="471.38" y1="25.40" x2="471.38" y2="31.40"/><line x1="48.90" y1="79.54" x2="54.90" y2="79.54"/><line x1="577.00" y1="79.54" x2="571.00" y2="79.54"/></g>
<g class="tk"><text x="48.80" y="307.0" text-anchor="middle">0.0</text><text x="154.42" y="307.0" text-anchor="middle">0.2</text><text x="260.04" y="307.0" text-anchor="middle">0.4</text><text x="365.66" y="307.0" text-anchor="middle">0.6</text><text x="471.28" y="307.0" text-anchor="middle">0.8</text><text x="576.90" y="307.0" text-anchor="middle">1.0</text><text x="45.3" y="299" text-anchor="end">0</text><text x="45.3" y="245" text-anchor="end">30</text><text x="45.3" y="191" text-anchor="end">60</text><text x="45.3" y="137" text-anchor="end">90</text><text x="45.3" y="82" text-anchor="end">120</text><text x="45.3" y="28" text-anchor="end">150</text></g>
<g class="lg"><line x1="58.1" y1="36.10" x2="71.6" y2="36.10" stroke="#0000ff" stroke-width="1.7"/><text x="99.3" y="39.00" text-anchor="middle" textLength="38" lengthAdjust="spacingAndGlyphs">30 krad/s</text><line x1="58.1" y1="45.50" x2="71.6" y2="45.50" stroke="#008000" stroke-width="1.7"/><text x="99.3" y="49.00" text-anchor="middle" textLength="38" lengthAdjust="spacingAndGlyphs">20 krad/s</text><line x1="58.1" y1="55.00" x2="71.6" y2="55.00" stroke="#ff0000" stroke-width="1.7"/><text x="99.3" y="58.00" text-anchor="middle" textLength="38" lengthAdjust="spacingAndGlyphs">10 krad/s</text><line x1="58.1" y1="64.65" x2="71.6" y2="64.65" stroke="#00bfbf" stroke-width="1.7"/><text x="99.3" y="67.00" text-anchor="middle" textLength="32.9" lengthAdjust="spacingAndGlyphs">0 krad/s</text></g>
<text class="al" x="313.95" y="320.9" text-anchor="middle" textLength="112.3" lengthAdjust="spacingAndGlyphs">Normalized radius</text>
<text class="al" transform="translate(18 160.65) rotate(-90)" text-anchor="middle" textLength="102.6" lengthAdjust="spacingAndGlyphs">Power Flow, MW</text>
</svg>
</body></html>
